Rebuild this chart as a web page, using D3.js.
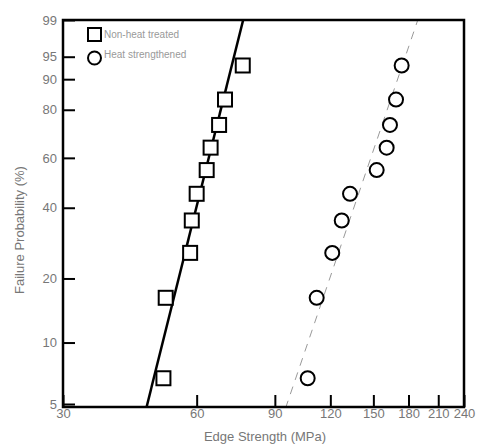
<!DOCTYPE html>
<html lang="en">
<head>
    <meta charset="UTF-8">
    <title>Weibull plot</title>
    <script type="text/javascript" src="https://cdn.jsdelivr.net/npm/d3@7/dist/d3.min.js"></script>
    <style>
        body { margin: 0; background: #fff; }
        text { font-family: "Liberation Sans", Arial, sans-serif; }
    </style>
</head>
<body>
    <script type="text/javascript">
        // failure probability (%) - median ranks, same for both series
        var probs = [6.7, 16.3, 26, 35.6, 45.2, 54.8, 64.4, 74, 83.7, 93.3];
        var nonHeat = [50.5, 51.1, 58.0, 58.5, 60.0, 63.2, 64.5, 67.4, 69.5, 76.2];
        var heatStr = [106.7, 111.8, 121.2, 127.3, 132.9, 152.6, 160.7, 163.5, 168.7, 173.7];
        // weibull fit: modulus, characteristic strength
        var fitModulus = [9.05, 6.63];
        var fitScale = [64.5, 150];
        var xTicks = [30, 60, 90, 120, 150, 180, 210, 240];
        var yTicks = [5, 10, 20, 40, 60, 80, 90, 95, 99];
        var legendNames = ["Non-heat treated", "Heat strengthened"];

        var w = 477, h = 445;
        var pLeft = 63, pRight = 464, pTop = 20, pBottom = 407;

        function weib(p) { return Math.log(-Math.log(1 - p / 100)); }

        var svg = d3.select("body").append("svg")
            .attr("width", w)
            .attr("height", h);

        var xScale = d3.scaleLog()
            .domain([30, 240])
            .range([pLeft, pRight]);

        var yScale = d3.scaleLinear()
            .domain([weib(5), weib(99)])
            .range([404, pTop]);

        svg.append("clipPath").attr("id", "clip")
            .append("rect")
            .attr("x", pLeft).attr("y", pTop)
            .attr("width", pRight - pLeft).attr("height", pBottom - pTop);

        // fit lines
        var fitLine = d3.line()
            .x(function(d) { return xScale(d[0]); })
            .y(function(d) { return yScale(d[1]); });
        var fitStyles = [
            { stroke: "#000", width: 2.5, dash: null },
            { stroke: "#999", width: 1, dash: "8,7" }
        ];
        fitModulus.forEach(function(m, i) {
            var pts = [30, 240].map(function(x) {
                return [x, m * (Math.log(x) - Math.log(fitScale[i]))];
            });
            svg.append("path")
                .attr("d", fitLine(pts))
                .attr("clip-path", "url(#clip)")
                .attr("fill", "none")
                .attr("stroke", fitStyles[i].stroke)
                .attr("stroke-width", fitStyles[i].width)
                .attr("stroke-dasharray", fitStyles[i].dash);
        });

        // axes
        var yAxis = svg.append("g")
            .attr("transform", "translate(" + pLeft + ",0)")
            .call(d3.axisLeft(yScale)
                .tickValues(yTicks.map(weib))
                .tickFormat(function(d, i) { return yTicks[i]; })
                .tickSize(-12)
                .tickPadding(6));
        yAxis.select(".domain").remove();
        yAxis.selectAll("line").attr("stroke", "#000").attr("stroke-width", 2);
        yAxis.selectAll("text").attr("fill", "#777").style("font-size", "13px");

        var xAxis = svg.append("g")
            .attr("transform", "translate(0," + pBottom + ")")
            .call(d3.axisBottom(xScale)
                .tickValues(xTicks)
                .tickFormat(d3.format("d"))
                .tickSize(-12)
                .tickPadding(2));
        xAxis.select(".domain").remove();
        xAxis.selectAll("line").attr("stroke", "#000").attr("stroke-width", 2);
        xAxis.selectAll("text").attr("fill", "#777").style("font-size", "13px");

        svg.append("rect")
            .attr("x", pLeft).attr("y", pTop)
            .attr("width", pRight - pLeft).attr("height", pBottom - pTop)
            .attr("fill", "none")
            .attr("stroke", "#000")
            .attr("stroke-width", 2.5);

        // markers
        svg.selectAll("rect.sq")
            .data(nonHeat)
            .enter()
            .append("rect")
            .attr("class", "sq")
            .attr("x", function(d) { return xScale(d) - 7; })
            .attr("y", function(d, i) { return yScale(weib(probs[i])) - 7; })
            .attr("width", 14).attr("height", 14)
            .attr("fill", "#fff")
            .attr("stroke", "#000")
            .attr("stroke-width", 2);

        svg.selectAll("circle.ci")
            .data(heatStr)
            .enter()
            .append("circle")
            .attr("class", "ci")
            .attr("cx", function(d) { return xScale(d); })
            .attr("cy", function(d, i) { return yScale(weib(probs[i])); })
            .attr("r", 7)
            .attr("fill", "#fff")
            .attr("stroke", "#000")
            .attr("stroke-width", 2);

        // legend
        svg.append("rect")
            .attr("x", 88).attr("y", 28).attr("width", 13).attr("height", 13)
            .attr("fill", "#fff").attr("stroke", "#000").attr("stroke-width", 2);
        svg.append("circle")
            .attr("cx", 94.5).attr("cy", 58).attr("r", 6.5)
            .attr("fill", "#fff").attr("stroke", "#000").attr("stroke-width", 2);
        svg.selectAll("text.leg")
            .data(legendNames)
            .enter()
            .append("text")
            .attr("class", "leg")
            .attr("x", 104)
            .attr("y", function(d, i) { return 38 + i * 20; })
            .attr("fill", "#999")
            .style("font-size", "10px")
            .text(function(d) { return d; });

        // titles
        svg.append("text")
            .attr("x", 265).attr("y", 441)
            .attr("text-anchor", "middle")
            .attr("fill", "#777")
            .style("font-size", "13px")
            .text("Edge Strength (MPa)");
        svg.append("text")
            .attr("transform", "translate(24,230) rotate(-90)")
            .attr("text-anchor", "middle")
            .attr("fill", "#777")
            .style("font-size", "13px")
            .text("Failure Probability (%)");
    </script>
</body>
</html>
